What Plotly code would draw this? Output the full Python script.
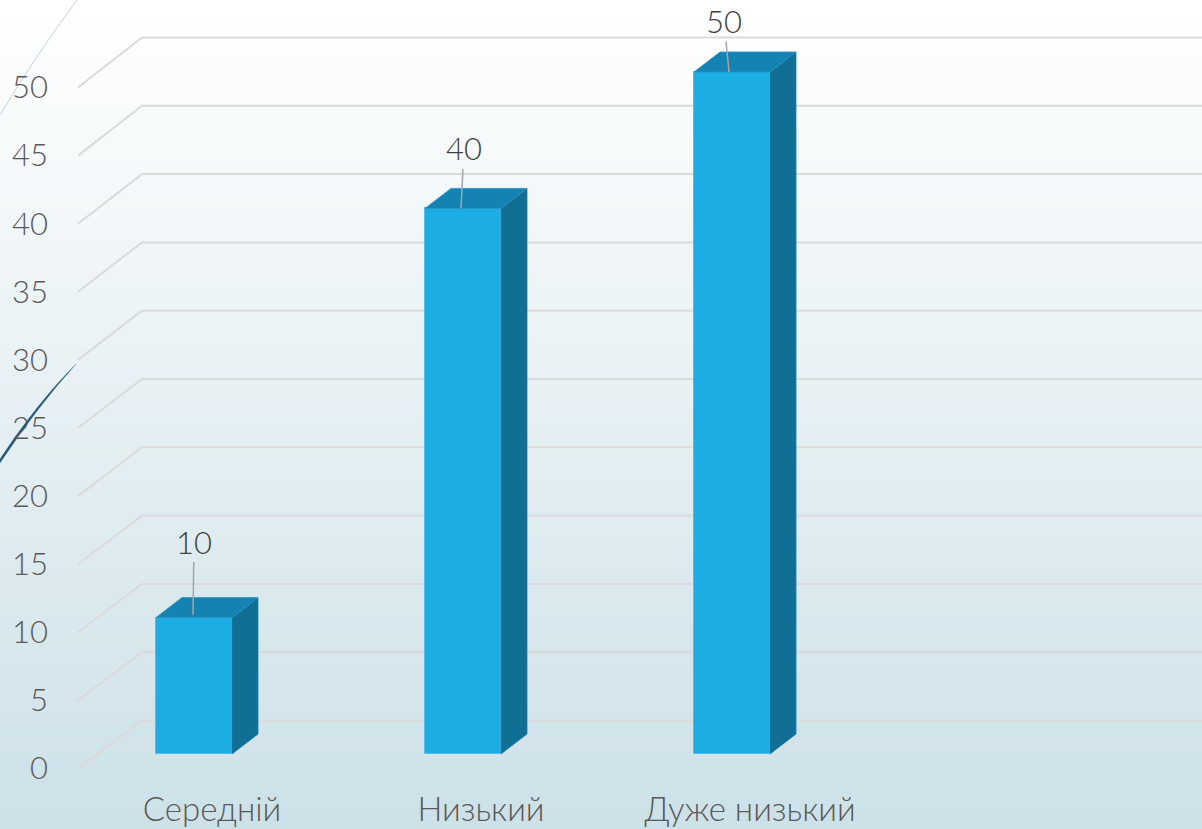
import plotly.graph_objects as go

# ---- data ----
CATEGORIES = ["Середній", "Низький", "Дуже низький"]
VALUES = [10, 40, 50]
Y_TICKS = [0, 5, 10, 15, 20, 25, 30, 35, 40, 45, 50]

# ---- page geometry (pixels) ----
W, H = 1202, 829
LEFT, BOTTOM_PX = 76, 780          # plot-area edges
PX_X = 269.0                       # px per category step
FIRST_CENTER = 194.0
PX_Y = 13.62                       # px per value unit on the front plane
PX_Y_BAR = 13.64                   # px per value unit at the bars
AX_ZERO_PX = 768.5                 # value 0 on front plane (tick labels)
BAR_ZERO_PX = 754.0                # value 0 at bar foot
BAR_W = 76 / PX_X
DEPTH_X, DEPTH_Y = 26 / PX_X, 20 / PX_Y_BAR  # bar depth
WALL_X = 64 / PX_X                           # floor depth
FRONT_X0 = (78 - FIRST_CENTER) / PX_X
LABEL_SHIFT = 18 / PX_X

def wall_y(t):
    return (48 + t * 0.04) / PX_Y

x_range = [(LEFT - FIRST_CENTER) / PX_X, (W - FIRST_CENTER) / PX_X]
y_range = [(AX_ZERO_PX - BOTTOM_PX) / PX_Y, AX_ZERO_PX / PX_Y]
y2_range = [(BAR_ZERO_PX - BOTTOM_PX) / PX_Y_BAR, BAR_ZERO_PX / PX_Y_BAR]

FONT = "Lato, 'Noto Sans', sans-serif"
positions = list(range(len(CATEGORIES)))
fig = go.Figure()

# oblique gridlines
for t in Y_TICKS:
    fig.add_trace(go.Scatter(
        x=[FRONT_X0, FRONT_X0 + WALL_X, x_range[1]],
        y=[t, t + wall_y(t), t + wall_y(t)],
        mode="lines", line=dict(color="#DADADA", width=2),
        hoverinfo="skip", showlegend=False))

# bars
fig.add_trace(go.Bar(
    x=positions, y=VALUES, width=BAR_W, yaxis="y2",
    marker=dict(color="#1CADE4", line=dict(color="#55BEE6", width=1)),
    showlegend=False, hoverinfo="x+y"))

# 3-D faces derived from the values
for p, v in zip(positions, VALUES):
    r = p + BAR_W / 2
    l = p - BAR_W / 2
    fig.add_trace(go.Scatter(
        x=[r, r + DEPTH_X, r + DEPTH_X, r, r],
        y=[0, DEPTH_Y, v + DEPTH_Y, v, 0],
        yaxis="y2", mode="lines", fill="toself", fillcolor="#116F95",
        line=dict(color="#1A7EA6", width=0.8),
        hoverinfo="skip", showlegend=False))
    fig.add_trace(go.Scatter(
        x=[l, l + DEPTH_X, r + DEPTH_X, r, l],
        y=[v, v + DEPTH_Y, v + DEPTH_Y, v, v],
        yaxis="y2", mode="lines", fill="toself", fillcolor="#1483B1",
        line=dict(color="#2A93BD", width=0.8),
        hoverinfo="skip", showlegend=False))

# data labels with leader lines: (head dx px, text ax, text ay, standoff)
LEADERS = [(-1, 1, -76, 3), (-2, 3, -60, 0), (-3, -5, -51, 0)]
annotations = []
for p, v, (hx, ax, ay, st) in zip(positions, VALUES, LEADERS):
    annotations.append(dict(
        x=p + hx / PX_X, y=v, xref="x", yref="y2", text=str(v),
        showarrow=True, arrowhead=0, arrowwidth=1.5, arrowcolor="#A6A6A6",
        ax=ax, ay=ay, standoff=st,
        font=dict(family=FONT, size=31, color="#404040", weight=300)))

# background gradient and decorative strokes
shapes = []
TOP, BOT = (255, 255, 255), (205, 225, 232)
N = 83
def px(x): return (x - LEFT) / (W - LEFT)
def py(y): return (BOTTOM_PX - y) / BOTTOM_PX
def pt(a, b): return f"{px(a):.5f},{py(b):.5f}"
for i in range(N):
    f = i / (N - 1)
    c = tuple(round(a + (b - a) * f) for a, b in zip(TOP, BOT))
    shapes.append(dict(type="rect", xref="paper", yref="paper", layer="below",
                       x0=px(0), x1=1, y0=py(H), y1=py(i * H / N),
                       fillcolor=f"rgb{c}", line_width=0))

shapes.append(dict(type="path", xref="paper", yref="paper", layer="below",
                   path=f"M {pt(77, 0)} Q {pt(36, 55)} {pt(0, 115)}",
                   line=dict(color="#C5D3DC", width=1)))
shapes.append(dict(type="path", xref="paper", yref="paper", layer="below",
                   path=f"M {pt(76, 364)} Q {pt(38, 406)} {pt(0, 463)} L {pt(0, 459)} Q {pt(37, 403)} {pt(76, 364)} Z",
                   fillcolor="#265A7A", line=dict(color="#265A7A", width=0.3)))

fig.update_layout(
    width=W, height=H, autosize=False,
    margin=dict(l=LEFT, r=0, t=0, b=H - BOTTOM_PX, pad=0, autoexpand=False),
    paper_bgcolor="#FFFFFF", plot_bgcolor="rgba(0,0,0,0)",
    bargap=0, barmode="overlay", showlegend=False,
    shapes=shapes, annotations=annotations,
    xaxis=dict(range=x_range, tickmode="array", automargin=False,
               tickvals=[p + LABEL_SHIFT for p in positions], ticktext=CATEGORIES,
               showgrid=False, zeroline=False, showline=False, ticks="",
               ticklabelstandoff=7,
               tickfont=dict(family=FONT, size=33, color="#595959", weight=300)),
    yaxis=dict(range=y_range, tickmode="array", tickvals=Y_TICKS, automargin=False,
               ticktext=[str(t) for t in Y_TICKS],
               showgrid=False, zeroline=False, showline=False, ticks="",
               ticklabelstandoff=27,
               tickfont=dict(family=FONT, size=31, color="#595959", weight=300)),
    yaxis2=dict(range=y2_range, overlaying="y", visible=False),
)

fig.write_html("out.html", config={"displayModeBar": False},
               post_script="document.body.style.margin='0';document.body.style.overflow='hidden';")
